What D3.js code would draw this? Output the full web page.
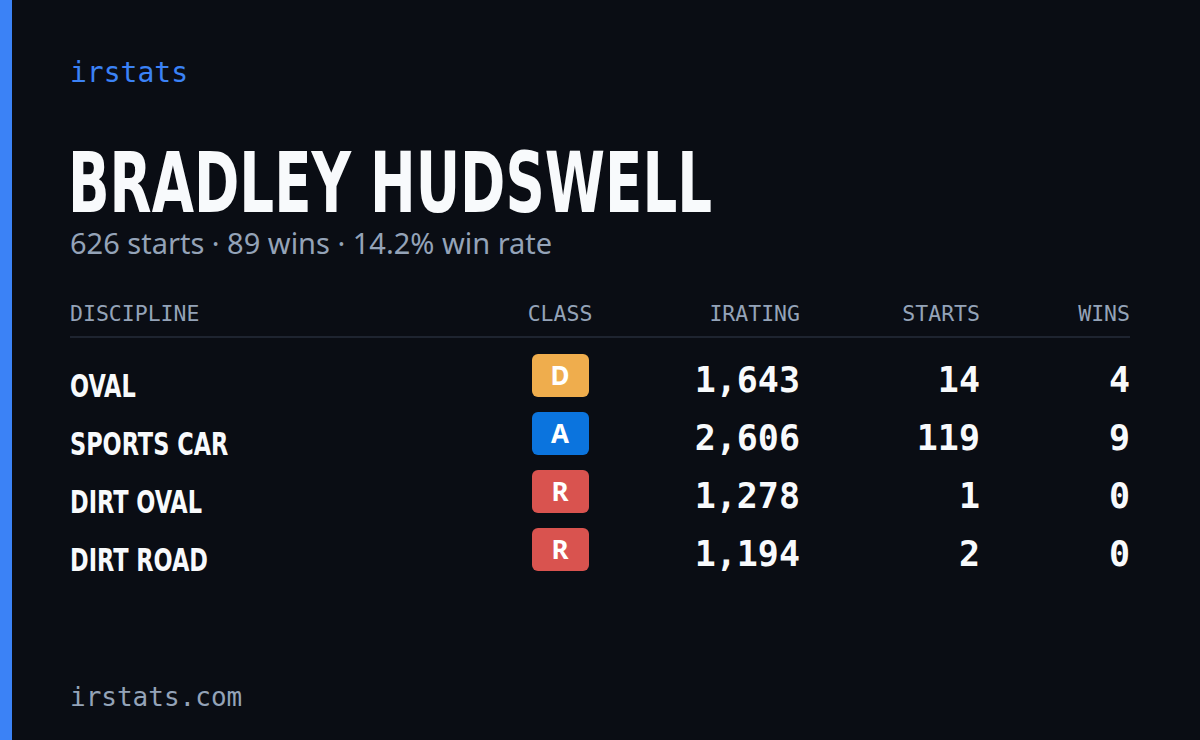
<!DOCTYPE html><html><head><meta charset="utf-8"><script src="https://cdn.jsdelivr.net/npm/d3@7"></script>
<style>body{margin:0;background:#0a0d14}</style></head><body><script>
const disciplines=["OVAL","SPORTS CAR","DIRT OVAL","DIRT ROAD"];
const classes=["D","A","R","R"];
const iratings=[1643,2606,1278,1194];
const starts=[14,119,1,2];
const wins=[4,9,0,0];
const headers=["DISCIPLINE","CLASS","IRATING","STARTS","WINS"];
const classColor={D:"#efad4d",A:"#0b74de",R:"#d9534f"};
const W=1200,H=740;
const svg=d3.select("body").append("svg").attr("width",W).attr("height",H);
svg.append("rect").attr("width",W).attr("height",H).attr("fill","#0a0d14");
svg.append("rect").attr("width",12).attr("height",H).attr("fill","#3b82f6");
const mono="'DejaVu Sans Mono',monospace", narrow="'DejaVu Sans Condensed','DejaVu Sans',sans-serif";
svg.append("text").attr("x",70).attr("y",82).text("irstats").attr("font-family",mono).attr("font-size",28).attr("fill","#3b82f6");
svg.append("text").attr("x",68).attr("y",212).text("BRADLEY HUDSWELL").attr("font-family",narrow).attr("font-weight",700).attr("font-size",84).attr("fill","#f8fafc").attr("textLength",644).attr("lengthAdjust","spacingAndGlyphs");
svg.append("text").attr("x",70).attr("y",254).text("626 starts · 89 wins · 14.2% win rate").attr("font-family","'Noto Sans',sans-serif").attr("font-size",29).attr("fill","#94a3b8");
const hx=[70,560,800,980,1130], anchors=["start","middle","end","end","end"];
headers.forEach((h,i)=>svg.append("text").attr("x",hx[i]).attr("y",321).text(h).attr("text-anchor",anchors[i]).attr("font-family",mono).attr("font-size",21.5).attr("fill","#94a3b8"));
svg.append("line").attr("x1",70).attr("x2",1130).attr("y1",337).attr("y2",337).attr("stroke","#1e2430").attr("stroke-width",2);
const y=d3.scaleBand().domain(disciplines).range([346,578]);
const fmt=d3.format(",");
disciplines.forEach((d,i)=>{
 const y0=y(d);
 svg.append("text").attr("transform",`translate(70,${y0+51}) scale(0.78,1)`).text(d).attr("font-family",narrow).attr("font-weight",700).attr("font-size",32).attr("fill","#f8fafc");
 svg.append("rect").attr("x",532).attr("y",y0+8).attr("width",57).attr("height",43).attr("rx",6).attr("fill",classColor[classes[i]]);
 svg.append("text").attr("x",560).attr("y",y0+39).text(classes[i]).attr("text-anchor","middle").attr("font-family","'Noto Sans',sans-serif").attr("font-weight",700).attr("font-size",26).attr("fill","#fff");
 [[800,fmt(iratings[i])],[980,starts[i]],[1130,wins[i]]].forEach(([x,t])=>svg.append("text").attr("x",x).attr("y",y0+46).text(t).attr("text-anchor","end").attr("font-family",mono).attr("font-weight",600).attr("font-size",35).attr("fill","#f8fafc"));
});
svg.append("text").attr("x",70).attr("y",706).text("irstats.com").attr("font-family",mono).attr("font-size",26).attr("fill","#94a3b8");
</script></body></html>
